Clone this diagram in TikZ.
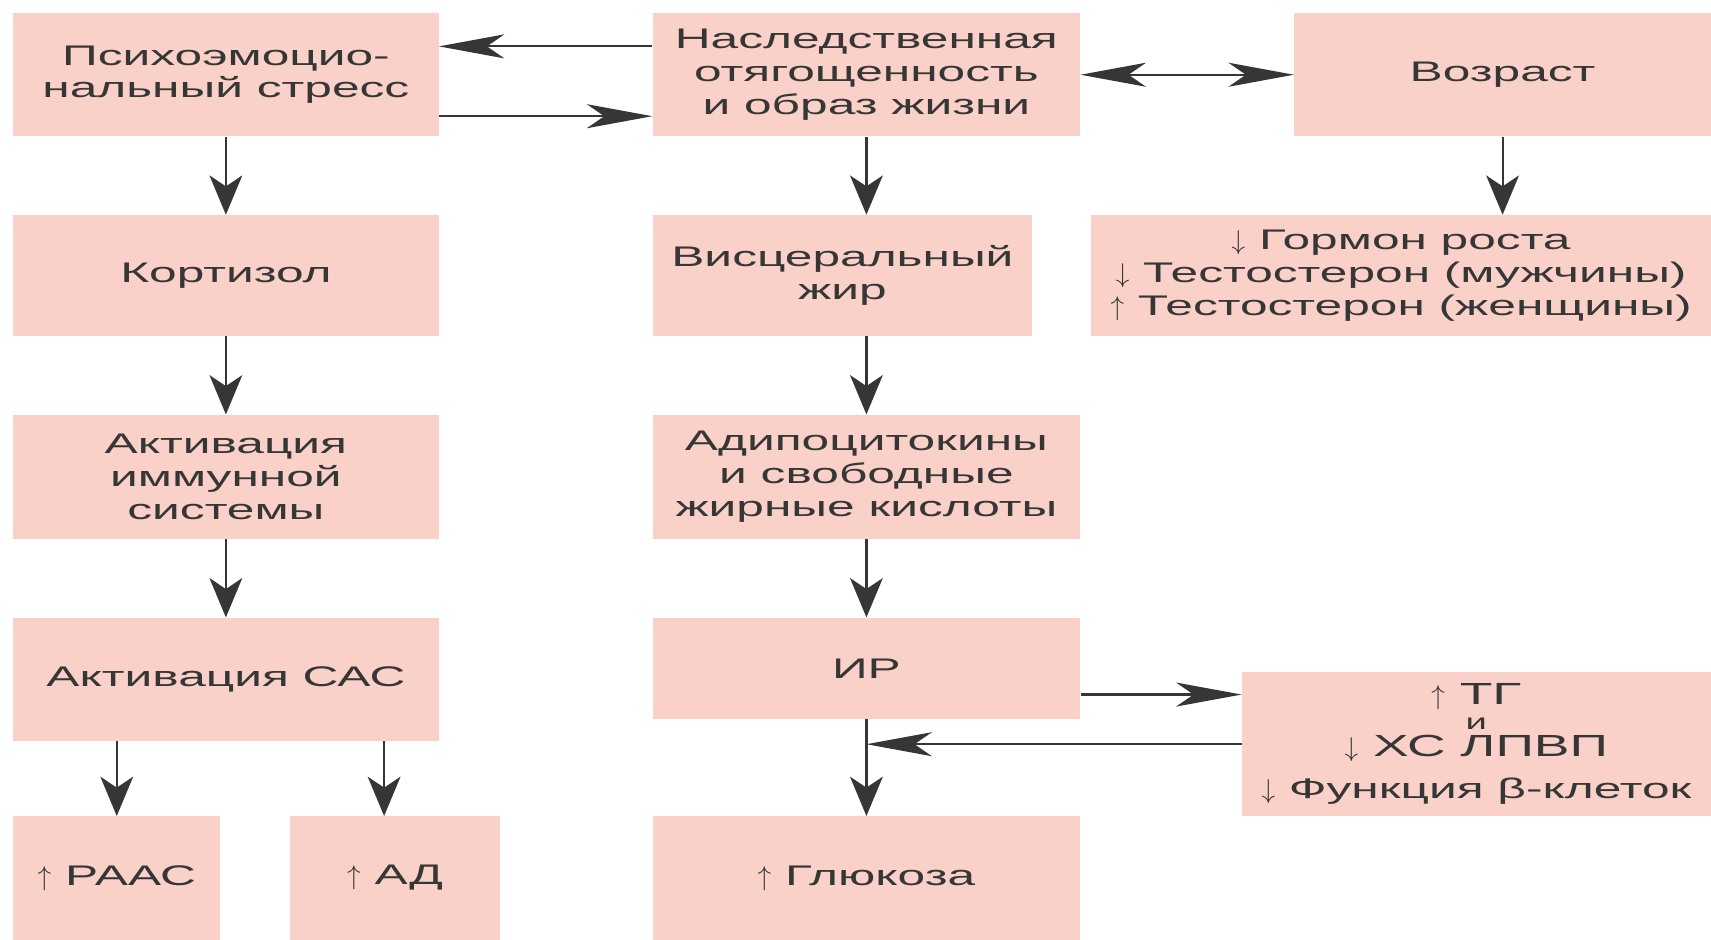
\documentclass[tikz,border=0pt]{standalone}
\usepackage{fontspec}
\setmainfont{Liberation Sans}[FakeStretch=1.75]
\usetikzlibrary{arrows.meta}
\definecolor{boxpink}{HTML}{F9D1C8}
\definecolor{ink}{HTML}{363636}
\newcommand{\uparr}{$\uparrow$}
\newcommand{\dnarr}{$\downarrow$}
\tikzset{
  box/.style={fill=boxpink, draw=none, inner sep=0pt, align=center, text=ink,
    font=\fontsize{26}{30}\selectfont},
  varr/.style={draw=ink, line width=2pt, -{Stealth[length=36pt,width=30pt,inset=10pt]}},
  harr/.style={draw=ink, line width=2pt, -{Stealth[length=60pt,width=22pt,inset=16pt]}},
  hboth/.style={draw=ink, line width=2pt, {Stealth[length=60pt,width=22pt,inset=16pt]}-{Stealth[length=60pt,width=22pt,inset=16pt]}}
}
\begin{document}
\begin{tikzpicture}[x=1pt,y=-1pt]
\useasboundingbox[fill=white] (0,0) rectangle (1568,861);
\node[box, minimum width=390pt, minimum height=113pt] (b1) at (207,68.5) {Психоэмоцио-\\нальный стресс};
\node[box, minimum width=392pt, minimum height=113pt] (b2) at (794,68.5) {Наследственная\\отягощенность\\и образ жизни};
\node[box, minimum width=382pt, minimum height=113pt] (b3) at (1377,68.5) {Возраст};
\node[box, minimum width=390pt, minimum height=111pt] (b4) at (207,252.5) {Кортизол};
\node[box, minimum width=348pt, minimum height=111pt] (b5) at (772,252.5) {Висцеральный\\жир};
\node[box, minimum width=568pt, minimum height=111pt] (b6) at (1284,252.5) {\dnarr\ Гормон роста\\\dnarr\ Тестостерон (мужчины)\\\uparr\ Тестостерон (женщины)};
\node[box, minimum width=390pt, minimum height=114pt] (b7) at (207,437) {Активация\\иммунной\\системы};
\node[box, minimum width=392pt, minimum height=114pt] (b8) at (794,437) {Адипоцитокины\\и свободные\\жирные кислоты};
\node[box, minimum width=390pt, minimum height=113pt] (b9) at (207,622.5) {Активация САС};
\node[box, minimum width=392pt, minimum height=93pt] (b10) at (794,612.5) {ИР};
\node[box, minimum width=430pt, minimum height=132pt] (b11) at (1353,682) {{\fontsize{28}{28}\selectfont \uparr\ ТГ}\\[-7pt]{\fontsize{20}{20}\selectfont и}\\[-6pt]{\fontsize{28}{28}\selectfont \dnarr\ ХС ЛПВП}\\[9pt]\dnarr\ Функция β-клеток};
\node[box, minimum width=190pt, minimum height=113pt] (b12) at (107,804.5) {\uparr\ РААС};
\node[box, minimum width=192pt, minimum height=113pt] (b13) at (362,804.5) {\uparr\ АД};
\node[box, minimum width=392pt, minimum height=113pt] (b14) at (794,804.5) {\uparr\ Глюкоза};

\draw[harr] ([yshift=26pt]b2.west) -- ([yshift=26pt]b2.west -| b1.east);
\draw[harr] ([yshift=-38pt]b1.east) -- ([yshift=-38pt]b1.east -| b2.west);
\draw[hboth] (b2.east) -- (b3.west);
\draw[varr] (b1.south) -- (b4.north);
\draw[varr] (b2.south) -- (b2.south |- b5.north);
\draw[varr] (b3.south) -- (b3.south |- b6.north);
\draw[varr] (b4.south) -- (b7.north);
\draw[varr] (b8.north |- b5.south) -- (b8.north);
\draw[varr] (b7.south) -- (b9.north);
\draw[varr] (b8.south) -- (b10.north);
\draw[varr] (b12.north |- b9.south) -- (b12.north);
\draw[varr] ([xshift=-10pt]b13.north |- b9.south) -- ([xshift=-10pt]b13.north);
\draw[harr] ([yshift=-24pt]b10.east) -- ([yshift=-24pt]b10.east -| b11.west);
\draw[harr] (b11.west) -- (b11.west -| b10.south);
\draw[varr] (b10.south) -- (b14.north);
\end{tikzpicture}
\end{document}
